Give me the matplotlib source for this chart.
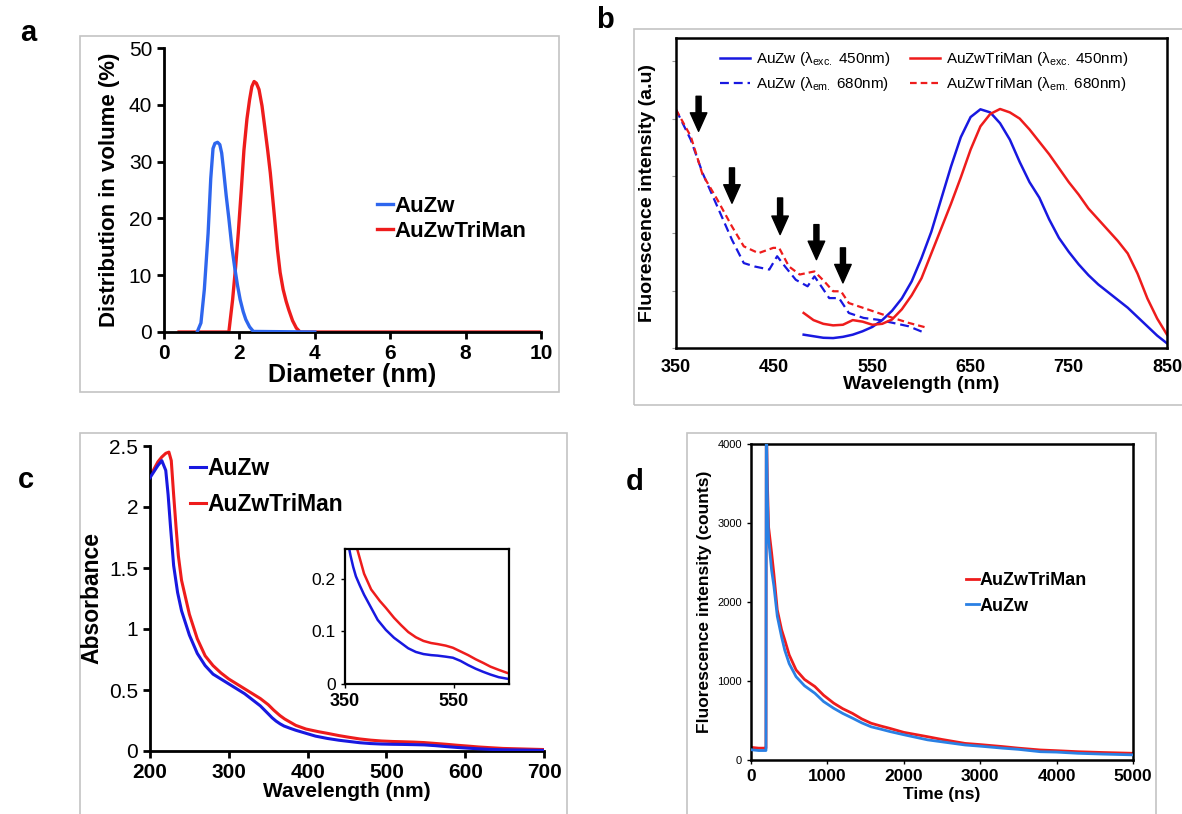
import matplotlib
matplotlib.use("Agg")
import matplotlib.pyplot as plt
from matplotlib.patches import Rectangle

plt.rcParams['font.family'] = ['Liberation Sans', 'DejaVu Sans']
plt.rcParams['mathtext.fontset'] = 'custom'
plt.rcParams['mathtext.rm'] = 'Liberation Sans'
plt.rcParams['mathtext.it'] = 'Liberation Sans:italic'
plt.rcParams['mathtext.bf'] = 'Liberation Sans:bold'

# ---------------- Data ----------------
# Panel a: size distribution
a_blue_x = [0.88, 0.98, 1.07, 1.17, 1.24, 1.30, 1.35, 1.42, 1.48, 1.53, 1.58, 1.65, 1.72, 1.80,
            1.87, 1.95, 2.02, 2.10, 2.17, 2.27, 2.37, 4.0]
a_blue_y = [0.0, 1.6, 7.5, 17.4, 27.0, 32.3, 33.2, 33.4, 33.0, 31.5, 28.5, 24.0, 20.0, 15.0,
            11.6, 8.2, 5.7, 3.6, 2.2, 0.9, 0.1, 0.0]
a_red_x = [0.4, 1.72, 1.82, 1.90, 1.97, 2.05, 2.12, 2.20, 2.27, 2.33, 2.39, 2.45, 2.52, 2.60,
           2.67, 2.75, 2.82, 2.92, 3.01, 3.08, 3.16, 3.24, 3.31, 3.41, 3.51, 3.61, 10.0]
a_red_y = [0.0, 0.0, 5.7, 11.5, 17.4, 25.0, 32.0, 37.5, 40.9, 43.2, 44.1, 43.8, 42.7, 39.8,
           36.2, 32.0, 28.0, 21.0, 14.5, 10.5, 7.5, 5.4, 3.9, 2.0, 0.7, 0.0, 0.0]

# Panel b: fluorescence spectra (a.u.)
b_em_wl = [480, 490, 500, 510, 520, 530, 540, 550, 560, 570, 580, 590, 600, 610, 620, 630,
           640, 650, 660, 670, 680, 690, 700, 710, 720, 730, 740, 750, 760, 770, 780, 790,
           800, 810, 820, 830, 840, 850]
b_blue_em = [0.043, 0.038, 0.033, 0.032, 0.036, 0.043, 0.054, 0.068, 0.090, 0.120, 0.160, 0.215,
             0.290, 0.375, 0.480, 0.585, 0.680, 0.745, 0.770, 0.760, 0.725, 0.672, 0.600, 0.535,
             0.485, 0.415, 0.355, 0.310, 0.270, 0.235, 0.205, 0.180, 0.155, 0.130, 0.100, 0.070,
             0.040, 0.015]
b_red_em = [0.113, 0.090, 0.078, 0.073, 0.075, 0.090, 0.085, 0.075, 0.078, 0.092, 0.125, 0.170,
            0.225, 0.305, 0.385, 0.465, 0.550, 0.640, 0.715, 0.755, 0.771, 0.760, 0.740, 0.705,
            0.665, 0.625, 0.580, 0.535, 0.495, 0.450, 0.415, 0.380, 0.345, 0.305, 0.240, 0.160,
            0.095, 0.043]
b_blue_ex_wl = [350, 365, 377, 392, 407, 419, 430, 445, 453, 461, 472, 484, 491, 499, 506, 516,
                526, 541, 556, 571, 587, 604]
b_blue_ex = [0.769, 0.672, 0.565, 0.457, 0.349, 0.274, 0.263, 0.253, 0.296, 0.263, 0.220, 0.199,
             0.231, 0.194, 0.161, 0.161, 0.113, 0.097, 0.091, 0.081, 0.070, 0.048]
b_red_ex_wl = [350, 365, 377, 392, 407, 419, 434, 449, 455, 465, 476, 491, 501, 510, 518, 526,
               541, 556, 571, 587, 606]
b_red_ex = [0.769, 0.683, 0.560, 0.479, 0.392, 0.328, 0.306, 0.323, 0.323, 0.263, 0.237, 0.247,
            0.215, 0.183, 0.183, 0.145, 0.129, 0.113, 0.097, 0.081, 0.065]
b_arrow_wl = [373, 407, 456, 493, 520]
b_arrow_top = [0.812, 0.581, 0.484, 0.398, 0.323]
b_arrow_tip = [0.699, 0.467, 0.366, 0.285, 0.210]

# Panel c: absorbance
c_blue_wl = [200, 205, 210, 215, 220, 223, 226, 230, 235, 240, 250, 260, 270, 280, 290, 300,
             310, 320, 330, 340, 350, 355, 360, 365, 370, 377, 385, 398, 410, 425, 440, 453,
             466, 480, 494, 508, 520, 535, 548, 562, 576, 590, 604, 617, 632, 648, 700]
c_blue = [2.24, 2.29, 2.34, 2.38, 2.30, 2.10, 1.84, 1.52, 1.30, 1.15, 0.95, 0.80, 0.70, 0.63,
          0.59, 0.55, 0.51, 0.47, 0.42, 0.37, 0.305, 0.272, 0.245, 0.223, 0.205, 0.188, 0.170,
          0.145, 0.122, 0.103, 0.088, 0.078, 0.068, 0.061, 0.057, 0.055, 0.054, 0.052, 0.050,
          0.044, 0.036, 0.029, 0.023, 0.018, 0.013, 0.010, 0.005]
c_red_wl = [200, 205, 210, 215, 220, 224, 227, 230, 233, 236, 240, 250, 260, 270, 280, 290, 300,
            310, 320, 330, 340, 350, 357, 365, 371, 385, 398, 414, 425, 440, 453, 466, 480, 494,
            508, 520, 535, 548, 562, 576, 590, 604, 617, 632, 648, 700]
c_red = [2.25, 2.31, 2.37, 2.41, 2.44, 2.45, 2.38, 2.10, 1.84, 1.60, 1.40, 1.12, 0.92, 0.78,
         0.70, 0.64, 0.59, 0.55, 0.51, 0.47, 0.43, 0.38, 0.335, 0.290, 0.262, 0.210, 0.180,
         0.158, 0.145, 0.126, 0.112, 0.099, 0.089, 0.082, 0.078, 0.076, 0.073, 0.069, 0.062,
         0.055, 0.047, 0.040, 0.033, 0.027, 0.021, 0.012]

# Panel d: fluorescence decay
d_t = [0, 100, 190, 196, 200, 215, 230, 270, 300, 344, 400, 442, 500, 590, 700, 836, 950, 1082,
       1200, 1328, 1450, 1573, 1700, 1819, 2000, 2311, 2500, 2803, 3000, 3294, 3500, 3786, 4000,
       4278, 4600, 5000]
d_red = [160, 150, 150, 150, 4400, 3500, 2950, 2620, 2350, 1900, 1650, 1520, 1330, 1140, 1020,
         930, 820, 720, 650, 590, 520, 465, 430, 400, 350, 295, 260, 210, 195, 170, 150, 127,
         118, 105, 95, 85]
d_blue = [130, 120, 120, 120, 4400, 3300, 2800, 2400, 2200, 1820, 1560, 1390, 1220, 1055, 940,
          845, 740, 655, 590, 530, 470, 420, 390, 360, 320, 255, 230, 190, 175, 150, 135, 105,
          100, 85, 75, 65]

# ---------------- Figure ----------------
W, H = 1182, 814
fig = plt.figure(figsize=(W / 100, H / 100), dpi=100)


def px_rect(x0, y0, x1, y1):
    return [x0 / W, 1 - y1 / H, (x1 - x0) / W, (y1 - y0) / H]


def frame(x0, y0, x1, y1):
    l, b, w, h = px_rect(x0, y0, x1, y1)
    fig.add_artist(Rectangle((l, b), w, h, transform=fig.transFigure, fill=False,
                             edgecolor='#c4c4c4', lw=1.2, zorder=0))


frame(80, 36, 559, 392)
frame(634, 29, 1190, 405)
frame(80, 433, 567, 830)
frame(687, 433, 1156, 830)

BLUE_A = '#2e66ee'
RED = '#ee1c1c'
BLUE_B = '#1818e0'
BLUE_D = '#2a80e4'

# ---- Panel a ----
ax = fig.add_axes(px_rect(164, 48, 541, 332))
ax.plot(a_red_x, a_red_y, color=RED, lw=2.4, label='AuZwTriMan', zorder=2)
ax.plot(a_blue_x, a_blue_y, color=BLUE_A, lw=2.4, label='AuZw', zorder=3)
ax.set_xlim(0, 10)
ax.set_ylim(0, 50)
ax.set_xticks(range(0, 11, 2))
ax.set_yticks(range(0, 51, 10))
for s in ['top', 'right']:
    ax.spines[s].set_visible(False)
for s in ['left', 'bottom']:
    ax.spines[s].set_linewidth(2)
ax.tick_params(direction='out', length=5, width=2, labelsize=15)
for t in ax.get_xticklabels():
    t.set_fontweight('bold')
ax.set_xlabel('Diameter (nm)', fontsize=18, fontweight='bold', labelpad=0)
ax.set_ylabel('Distribution in volume (%)', fontsize=16, fontweight='bold', labelpad=6)
h, l = ax.get_legend_handles_labels()
ax.legend(h[::-1], l[::-1], loc='upper left', bbox_to_anchor=(0.513, 0.55), frameon=False,
          handlelength=0.7, handletextpad=0.05, labelspacing=0.2,
          prop={'size': 16, 'weight': 'bold'})
fig.text(20 / W, 1 - 33 / H, 'a', fontsize=21, fontweight='bold', va='center', ha='left')

# ---- Panel b ----
ax = fig.add_axes(px_rect(676, 38, 1167, 348))
ax.plot(b_em_wl, b_blue_em, color=BLUE_B, lw=1.8, label='AuZw ($\\mathregular{\\lambda_{exc.}}$ 450nm)')
ax.plot(b_blue_ex_wl, b_blue_ex, color=BLUE_B, lw=1.6, ls=(0, (4, 2.2)),
        label='AuZw ($\\mathregular{\\lambda_{em.}}$ 680nm)')
ax.plot(b_em_wl, b_red_em, color=RED, lw=1.8, label='AuZwTriMan ($\\mathregular{\\lambda_{exc.}}$ 450nm)')
ax.plot(b_red_ex_wl, b_red_ex, color=RED, lw=1.6, ls=(0, (3, 1.8)),
        label='AuZwTriMan ($\\mathregular{\\lambda_{em.}}$ 680nm)')
for wl, top, tip in zip(b_arrow_wl, b_arrow_top, b_arrow_tip):
    ax.annotate('', xy=(wl, tip), xytext=(wl, top),
                arrowprops=dict(arrowstyle='simple,head_width=0.85,head_length=0.95,tail_width=0.26',
                                color='black', shrinkA=0, shrinkB=0, mutation_scale=14))
ax.set_xlim(350, 850)
ax.set_ylim(0, 1)
ax.set_xticks(range(350, 851, 100))
ax.set_yticks([0, 0.185, 0.37, 0.555, 0.74, 0.925])
ax.set_yticklabels([])
for s in ax.spines.values():
    s.set_linewidth(1.8)
ax.tick_params(axis='x', direction='out', length=0, labelsize=13, pad=8)
ax.tick_params(axis='y', direction='out', length=3, width=0.8, colors='#999999')
for t in ax.get_xticklabels():
    t.set_fontweight('bold')
ax.set_xlabel('Wavelength (nm)', fontsize=14, fontweight='bold', labelpad=0)
ax.set_ylabel('Fluorescence intensity (a.u)', fontsize=14, fontweight='bold', labelpad=8)
ax.legend(loc='upper left', bbox_to_anchor=(0.061, 1.005), ncol=2, frameon=False,
          handlelength=2.0, handletextpad=0.4, columnspacing=1.2, labelspacing=0.45,
          fontsize=11)
fig.text(596 / W, 1 - 20 / H, 'b', fontsize=21, fontweight='bold', va='center', ha='left')

# ---- Panel c ----
ax = fig.add_axes(px_rect(150, 446, 544, 751))
ax.plot(c_blue_wl, c_blue, color=BLUE_B, lw=2.2, label='AuZw', zorder=3)
ax.plot(c_red_wl, c_red, color=RED, lw=2.2, label='AuZwTriMan', zorder=2)
ax.set_xlim(200, 700)
ax.set_ylim(0, 2.5)
ax.set_xticks(range(200, 701, 100))
ax.set_yticks([0, 0.5, 1, 1.5, 2, 2.5])
ax.set_yticklabels(['0', '0.5', '1', '1.5', '2', '2.5'])
for s in ['top', 'right']:
    ax.spines[s].set_visible(False)
for s in ['left', 'bottom']:
    ax.spines[s].set_linewidth(2)
ax.tick_params(direction='out', length=5, width=2, labelsize=15)
for t in ax.get_xticklabels():
    t.set_fontweight('bold')
ax.set_xlabel('Wavelength (nm)', fontsize=15, fontweight='bold', labelpad=0)
ax.set_ylabel('Absorbance', fontsize=16.5, fontweight='bold', labelpad=4)
ax.legend(loc='upper left', bbox_to_anchor=(0.05, 1.03), frameon=False,
          handlelength=0.7, handletextpad=0.05, labelspacing=0.55,
          prop={'size': 16.5, 'weight': 'bold'})
fig.text(18 / W, 1 - 480 / H, 'c', fontsize=21, fontweight='bold', va='center', ha='left')

# inset
frame(294, 538, 529, 718)
axi = fig.add_axes(px_rect(345, 549, 509, 684))
axi.plot(c_blue_wl, c_blue, color=BLUE_B, lw=1.8)
axi.plot(c_red_wl, c_red, color=RED, lw=1.8)
axi.set_xlim(350, 651)
axi.set_ylim(0, 0.257)
axi.set_xticks([350, 550])
axi.set_yticks([0, 0.1, 0.2])
axi.set_yticklabels(['0', '0.1', '0.2'])
for s in axi.spines.values():
    s.set_linewidth(1.6)
axi.tick_params(direction='out', length=3, width=1, labelsize=12.5)
axi.tick_params(axis='x', labelsize=13)
for t in axi.get_xticklabels():
    t.set_fontweight('bold')

# ---- Panel d ----
ax = fig.add_axes(px_rect(751, 444, 1133, 760))
ax.plot(d_t, d_red, color=RED, lw=2.0, label='AuZwTriMan', zorder=2)
ax.plot(d_t, d_blue, color=BLUE_D, lw=2.0, label='AuZw', zorder=3)
ax.set_xlim(0, 5000)
ax.set_ylim(0, 4000)
ax.set_xticks(range(0, 5001, 1000))
ax.set_yticks(range(0, 4001, 1000))
for s in ax.spines.values():
    s.set_linewidth(1.8)
ax.tick_params(axis='y', direction='out', length=3, width=1, labelsize=8)
ax.tick_params(axis='x', direction='out', length=3, width=1, labelsize=12.5)
for t in ax.get_xticklabels():
    t.set_fontweight('bold')
ax.set_xlabel('Time (ns)', fontsize=12.5, fontweight='bold', labelpad=2)
ax.set_ylabel('Fluorescence intensity (counts)', fontsize=12.5, fontweight='bold', labelpad=4)
ax.legend(loc='upper left', bbox_to_anchor=(0.52, 0.645), frameon=False,
          handlelength=0.7, handletextpad=0.05, labelspacing=0.45,
          prop={'size': 13, 'weight': 'bold'})
fig.text(626 / W, 1 - 482 / H, 'd', fontsize=21, fontweight='bold', va='center', ha='left')

fig.savefig('out.png', dpi=100)
